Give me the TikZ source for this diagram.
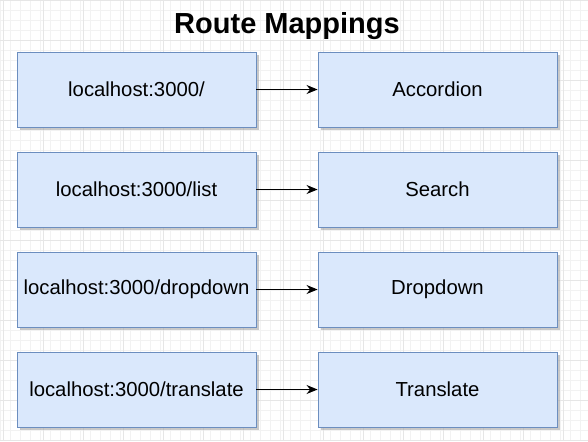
\documentclass[tikz,border=0pt]{standalone}
\usepackage{fontspec}
\setmainfont{Liberation Sans}
\usetikzlibrary{arrows.meta,shadows}
\definecolor{boxfill}{HTML}{DAE8FC}
\definecolor{boxline}{HTML}{6C8EBF}
\definecolor{gridminor}{HTML}{F2F2F2}
\definecolor{gridmajor}{HTML}{E6E6E6}
\begin{document}
\begin{tikzpicture}[x=1pt,y=-1pt,
  routebox/.style={draw=boxline,fill=boxfill,line width=0.9pt,minimum width=239pt,minimum height=75pt,inner sep=0pt,font=\fontsize{20.3}{23}\selectfont,
    drop shadow={shadow xshift=3pt,shadow yshift=-3pt,fill=black!35,opacity=0.6}},
  link/.style={-{Stealth[length=11pt,width=9pt]},line width=1pt,black}]
\fill[white] (0,0) rectangle (588,441);
\useasboundingbox (0,0) rectangle (588,441);
\draw[gridminor,line width=0.6pt] (0,0) grid[step=10pt] (588,441);
\foreach \x in {3,43,...,588} \draw[gridmajor,line width=0.8pt] (\x,0) -- (\x,441);
\foreach \y in {0,40,...,441} \draw[gridmajor,line width=0.8pt] (0,\y) -- (588,\y);
\node[font=\bfseries\fontsize{29}{32}\selectfont] (title) at (287,26) {Route Mappings};
\node[routebox] (l1) at (136.5,89.5) {localhost:3000/};
\node[routebox] (r1) at (437.5,89.5) {Accordion};
\node[routebox] (l2) at (136.5,189.5) {localhost:3000/list};
\node[routebox] (r2) at (437.5,189.5) {Search};
\node[routebox] (l3) at (136.5,289.5) {localhost:3000/dropdown};
\node[routebox] (r3) at (437.5,289.5) {Dropdown};
\node[routebox] (l4) at (136.5,389.5) {localhost:3000/translate};
\node[routebox] (r4) at (437.5,389.5) {Translate};
\foreach \i in {1,2,3,4} \draw[link] (l\i) -- (r\i);
\end{tikzpicture}
\end{document}
